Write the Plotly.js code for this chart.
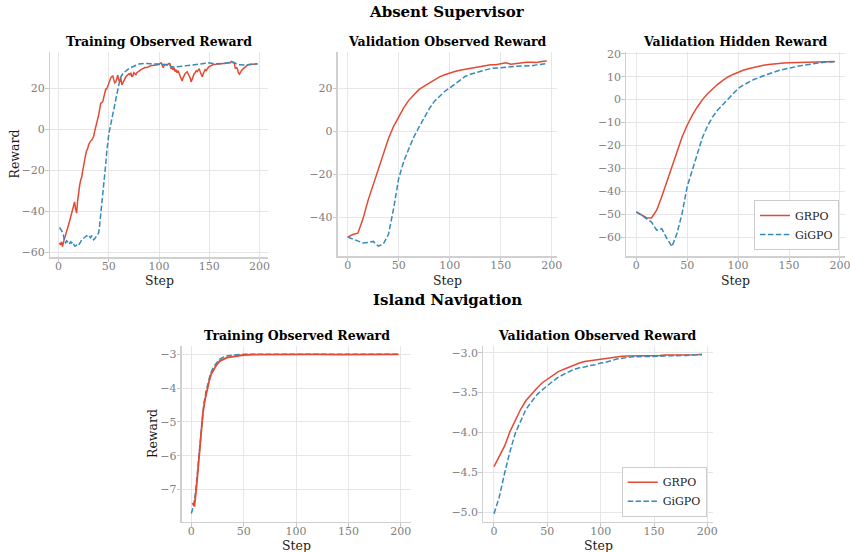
<!DOCTYPE html>
<html>
<head>
<meta charset="utf-8">
<script src="https://cdn.plot.ly/plotly-3.0.1.min.js"></script>
<style>html,body{margin:0;padding:0;background:#fff;}#chart{width:850px;height:552px;}</style>
</head>
<body>
<div id="chart"></div>
<script>
// ---------- Data ----------
// Absent Supervisor – Training Observed Reward
const asTrainGrpoSteps = [1,2,3,4,5,6,7,8,9,10,11,12,13,14,15,16,17,18,19,20,21,22,23,24,25,26,27,28,29,30,31,32,33,34,35,36,37,38,39,40,41,42,43,44,45,46,47,48,49,50,51,52,53,54,55,56,57,58,59,60,61,62,63,64,65,66,67,68,69,70,71,72,73,74,75,76,77,78,79,80,82,84,86,88,90,92,94,96,98,100,101,102,103,104,105,106,108,110,111,112,113,114,115,116,117,118,119,120,121,122,123,124,125,126,127,128,129,130,131,132,133,134,135,136,137,138,139,140,141,142,143,144,145,146,147,148,149,150,152,154,156,158,160,162,164,166,168,170,171,172,173,174,175,176,177,178,179,180,181,182,184,186,188,190,192,194,196,198];
const asTrainGrpo = [-55.5,-56.5,-55,-57.3,-55,-53.5,-52,-50,-48.5,-47,-45,-43,-41,-39,-37.5,-35.5,-39,-41,-35,-30,-27.5,-25,-23.5,-20.5,-17,-15,-12.5,-10.5,-9.5,-7.5,-6.5,-5.8,-5.5,-4.8,-3.5,-1,1.5,3,5,7,10,12.5,13,13.3,15.5,18,19.5,19.5,21,22.5,23.5,25,25.5,26,24,22.5,23,25.5,26.3,24,23,25,21.5,22.5,23.5,24.9,25.5,26,26.5,27,26.5,27.5,25.5,26,27.5,27,26.5,27.5,28,28.5,29,29.5,30,30,30.5,31,31,31.2,31.3,31.5,32,32.3,31.5,30,30.8,31.5,31.2,32,31.8,29.5,30,28.8,30,28,29,27.5,28.5,27,26,25,23.5,25,26.5,27,27.5,28,27,26,25,23,24.5,26,27,27.5,28.5,28,29,29.5,28,26.5,25.5,27,28,29,28.5,29.5,30,30.5,31,31.5,31.5,31.8,31.7,31.8,31.8,32,32.2,32.5,32.3,33,32.8,32.5,32,29.5,30,29.5,27.5,26.8,27.5,28.5,29.5,30.5,31.2,31.5,31.5,31.5,31.7,32];
const asTrainGigpoSteps = [1,2,3,4,5,6,7,8,9,10,11,12,13,14,15,16,17,18,19,20,21,22,23,24,25,26,27,28,29,30,31,32,33,34,35,36,37,38,39,40,41,42,43,44,45,46,47,48,49,50,51,52,53,54,55,56,57,58,59,60,61,62,63,64,65,66,68,70,72,74,76,78,80,85,90,95,100,105,110,112,115,120,125,130,135,140,145,150,155,160,165,170,175,178,182,186,190,195,198];
const asTrainGigpo = [-48,-48.5,-49.5,-50.5,-52,-55,-55.5,-54.5,-55,-54.8,-56,-55,-55.5,-55,-56,-57,-57,-56.5,-56,-56.5,-56,-55,-54,-53.5,-53,-52.5,-52,-52,-52.5,-52,-52.5,-53,-52,-53,-54,-53.5,-52.5,-52,-51.5,-50.5,-46.5,-42,-37.5,-33.5,-28.5,-23,-17,-11,-6,-2.5,0,2.5,5,7.5,10.5,13,15.5,18,20.5,22.5,24,25.5,26.5,27,27.5,28,28.5,29.5,30,30.5,31,31.5,31.7,32,32,32,31.7,31.5,31.5,30.5,30.3,30.5,30.8,31.2,31.5,31.8,32.3,32.3,31.8,31.8,32,32.5,32.5,31.5,31.2,31.2,31.5,31.7,31.8];

// Validation steps (every 5 steps)
const valSteps = [0,5,10,15,20,25,30,35,40,45,50,55,60,65,70,75,80,85,90,95,100,105,110,115,120,125,130,135,140,145,150,155,160,165,170,175,180,185,190,195];

// Absent Supervisor – Validation Observed Reward
const asValObsGrpo = [-49.3,-48.1,-47.5,-40.8,-32.2,-25.2,-18.2,-10.4,-3.4,2.3,7,11,14.5,17.2,19.5,21,22.5,24,25.3,26.3,27.2,27.8,28.4,28.8,29.2,29.6,30,30.4,31,31,31.5,31.9,31.2,31.6,31.8,32.1,32.1,32,32.5,32.7];
const asValObsGigpo = [-49.3,-50.2,-50.8,-52,-51.8,-51.3,-53.5,-52.5,-48,-36,-22,-14,-8,-2.5,2,6.5,10.5,14,16.5,18.5,20.2,22,24,25.5,26.5,27.2,27.8,28.5,29.2,29.4,29.7,30,30.2,30.3,30.4,30.4,30.5,30.9,31.2,31.5];

// Absent Supervisor – Validation Hidden Reward
const asValHidGrpo = [-49,-50.4,-51.6,-51.7,-48.3,-42.4,-35.9,-28.6,-22.1,-16.3,-11.2,-6.8,-3.2,0,2.6,4.8,6.7,8.4,9.9,11,12,12.8,13.5,14.1,14.6,15,15.3,15.6,15.8,16,16.1,16.2,16.3,16.4,16.4,16.5,16.5,16.6,16.6,16.7];
const asValHidGigpo = [-49,-50.5,-52,-53.5,-57,-56.4,-60.6,-64.2,-58.4,-49.7,-38,-31,-24,-16.5,-11.5,-7.5,-4.5,-2.2,0,2.5,4.8,6.3,7.6,8.7,9.6,10.5,11.3,12,12.7,13.3,13.8,14.2,14.7,15.1,15.5,15.8,16.1,16.3,16.5,16.6];

// Island Navigation – Training Observed Reward
const inTrainGrpoSteps = [1,3,5,7,9,11,13,15,17,19,22,24,27,31,34,37,42,50,60,80,100,120,140,150,160,180,198];
const inTrainGrpo = [-7.4,-7.5,-6.9,-6.1,-5.4,-4.75,-4.35,-4.05,-3.8,-3.58,-3.4,-3.32,-3.2,-3.13,-3.1,-3.08,-3.05,-3.02,-3.01,-3.0,-3.0,-3.0,-3.01,-3.01,-3.0,-3.0,-3.0];
const inTrainGigpoSteps = [0,2,4,6,8,10,12,14,16,18,20,23,27,30,34,40,50,60,80,100,120,140,150,160,180,198];
const inTrainGigpo = [-7.71,-7.5,-7.1,-6.4,-5.6,-4.94,-4.45,-4.1,-3.82,-3.6,-3.45,-3.3,-3.15,-3.09,-3.05,-3.02,-3.0,-3.0,-3.0,-3.0,-3.0,-3.01,-3.02,-3.01,-3.0,-3.0];

// Island Navigation – Validation Observed Reward
const inValGrpo = [-4.43,-4.3,-4.17,-3.99,-3.84,-3.71,-3.6,-3.52,-3.45,-3.38,-3.33,-3.28,-3.24,-3.21,-3.18,-3.15,-3.13,-3.11,-3.1,-3.09,-3.08,-3.07,-3.06,-3.055,-3.045,-3.04,-3.04,-3.04,-3.04,-3.04,-3.04,-3.035,-3.03,-3.03,-3.03,-3.03,-3.03,-3.03,-3.025,-3.02];
const inValGigpo = [-5.02,-4.81,-4.51,-4.24,-4.01,-3.85,-3.71,-3.62,-3.53,-3.47,-3.41,-3.36,-3.31,-3.27,-3.24,-3.21,-3.19,-3.18,-3.16,-3.15,-3.13,-3.12,-3.1,-3.08,-3.07,-3.06,-3.05,-3.05,-3.05,-3.05,-3.05,-3.045,-3.04,-3.04,-3.04,-3.035,-3.035,-3.03,-3.03,-3.025];

const seriesNames = ['GRPO','GiGPO'];
const xTicks = [0,50,100,150,200];

// ---------- Styling ----------
const RED = '#E24A33', BLUE = '#348ABD';
const FONT = 'DejaVu Serif, Liberation Serif, serif';
const DASH = '5.5px,2.4px';

function line(x, y, i, xa, ya, legend, show, w) {
  return {
    x: x, y: y, xaxis: xa, yaxis: ya, type: 'scatter', mode: 'lines',
    name: seriesNames[i], legend: legend, showlegend: show,
    line: {color: i === 0 ? RED : BLUE, width: w || 1.5, dash: i === 0 ? 'solid' : DASH}
  };
}

const traces = [
  line(asTrainGrpoSteps, asTrainGrpo, 0, 'x', 'y', 'legend', false),
  line(asTrainGigpoSteps, asTrainGigpo, 1, 'x', 'y', 'legend', false),
  line(valSteps, asValObsGrpo, 0, 'x2', 'y2', 'legend', false),
  line(valSteps, asValObsGigpo, 1, 'x2', 'y2', 'legend', false),
  line(valSteps, asValHidGrpo, 0, 'x3', 'y3', 'legend', true),
  line(valSteps, asValHidGigpo, 1, 'x3', 'y3', 'legend', true),
  line(inTrainGigpoSteps, inTrainGigpo, 1, 'x4', 'y4', 'legend2', false),
  line(inTrainGrpoSteps, inTrainGrpo, 0, 'x4', 'y4', 'legend2', false, 1.8),
  line(valSteps, inValGrpo, 0, 'x5', 'y5', 'legend2', true),
  line(valSteps, inValGigpo, 1, 'x5', 'y5', 'legend2', true)
];

const W = 850, H = 552;
function xax(left, right, range, anchor) {
  return {
    domain: [left / W, right / W], range: range, anchor: anchor,
    tickvals: xTicks, ticks: 'outside', ticklen: 3.5, tickcolor: '#c8c8c8', tickwidth: 1,
    ticklabelstandoff: -5, ticklabeloverflow: 'allow',
    showline: true, linecolor: '#d0d0d0', linewidth: 1.5, mirror: false,
    showgrid: true, gridcolor: '#e6e6e6', gridwidth: 1, zeroline: false,
    tickfont: {family: FONT, size: 11, color: '#808080'},
    automargin: false, fixedrange: true
  };
}
function yax(top, bottom, range, anchor, dtick, fmt) {
  return {
    domain: [1 - bottom / H, 1 - top / H], range: range, anchor: anchor, dtick: dtick, tickformat: fmt,
    ticks: 'outside', ticklen: 3.5, tickcolor: '#c8c8c8', tickwidth: 1,
    ticklabelstandoff: -2, ticklabeloverflow: 'allow',
    showline: true, linecolor: '#d0d0d0', linewidth: 1.5, mirror: false,
    showgrid: true, gridcolor: '#e6e6e6', gridwidth: 1, zeroline: false,
    tickfont: {family: FONT, size: 11, color: '#808080'},
    automargin: false, fixedrange: true
  };
}

function ann(text, x, y, size, bold, angle, color) {
  return {text: bold ? '<b>' + text + '</b>' : text, x: x / W, y: 1 - y / H, xref: 'paper', yref: 'paper',
    showarrow: false, xanchor: 'center', yanchor: 'middle', textangle: angle || 0,
    font: {family: FONT, size: size, color: color || '#000'}};
}

const layout = {
  width: W, height: H, margin: {l: 0, r: 0, t: 0, b: 0},
  paper_bgcolor: '#fff', plot_bgcolor: '#fff',
  font: {family: FONT},
  xaxis: xax(50, 268, [-8.5, 208.5], 'y'),
  yaxis: yax(52, 257, [-62.4, 37.6], 'x', 20, 'd'),
  xaxis2: xax(337.7, 556.7, [-9.75, 204.75], 'y2'),
  yaxis2: yax(52, 256, [-58.1, 36.9], 'x2', 20, 'd'),
  xaxis3: xax(626.3, 845, [-9.8, 205], 'y3'),
  yaxis3: yax(52, 256, [-68.3, 20.8], 'x3', 10, 'd'),
  xaxis4: xax(181.7, 410.7, [-9.2, 209.5], 'y4'),
  yaxis4: yax(346, 521.7, [-7.955, -2.753], 'x4', 1, 'd'),
  xaxis5: xax(483.3, 712.7, [-10, 205], 'y5'),
  yaxis5: yax(346, 521.7, [-5.121, -2.916], 'x5', 0.5, '.1f'),
  legend: {x: 839 / W, y: 1 - 250 / H, xanchor: 'right', yanchor: 'bottom',
    bgcolor: 'rgba(255,255,255,0.9)', bordercolor: '#cccccc', borderwidth: 1,
    font: {family: FONT, size: 11, color: '#222'}, tracegroupgap: 0},
  legend2: {x: 706.7 / W, y: 1 - 516.7 / H, xanchor: 'right', yanchor: 'bottom',
    bgcolor: 'rgba(255,255,255,0.9)', bordercolor: '#cccccc', borderwidth: 1,
    font: {family: FONT, size: 11, color: '#222'}, tracegroupgap: 0},
  annotations: [
    ann('Absent Supervisor', 447, 12, 15, true),
    ann('Island Navigation', 447, 300, 15, true),
    ann('Training Observed Reward', 158.5, 41, 12.5, true),
    ann('Validation Observed Reward', 447, 41, 12.5, true),
    ann('Validation Hidden Reward', 735, 41, 12.5, true),
    ann('Training Observed Reward', 296.5, 335, 12.5, true),
    ann('Validation Observed Reward', 597, 335, 12.5, true),
    ann('Step', 159, 280, 12.5, false, 0, '#1a1a1a'),
    ann('Step', 447, 280, 12.5, false, 0, '#1a1a1a'),
    ann('Step', 735.6, 280, 12.5, false, 0, '#1a1a1a'),
    ann('Step', 296, 545.5, 12.5, false, 0, '#1a1a1a'),
    ann('Step', 598, 545.5, 12.5, false, 0, '#1a1a1a'),
    ann('Reward', 14, 154.5, 12.5, false, -90, '#1a1a1a'),
    ann('Reward', 152, 434, 12.5, false, -90, '#1a1a1a')
  ]
};

Plotly.newPlot('chart', traces, layout, {staticPlot: true, displayModeBar: false});
</script>
</body>
</html>
